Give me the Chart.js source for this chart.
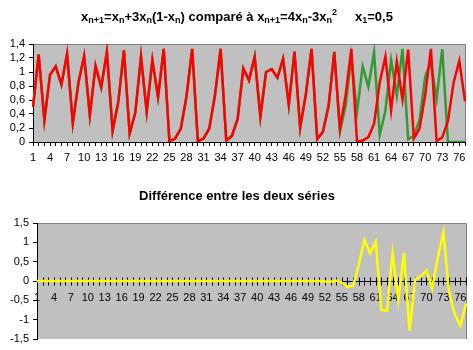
<!DOCTYPE html>
<html>
<head>
<meta charset="utf-8">
<script src="https://cdn.jsdelivr.net/npm/chart.js@4.4.0/dist/chart.umd.min.js"></script>
<style>
  body { margin: 0; background: #fff; overflow: hidden; }
  #wrap { position: relative; width: 473px; height: 350px; }
  canvas { position: absolute; left: 0; }
</style>
</head>
<body>
<div id="wrap">
  <canvas id="series" width="473" height="172" style="top:0"></canvas>
  <canvas id="difference" width="473" height="178" style="top:172px"></canvas>
</div>
<script>
// rang n
const steps = [
  1, 2, 3, 4, 5, 6, 7, 8, 9, 10, 11, 12, 13, 14, 15, 16, 17, 18, 19, 20,
  21, 22, 23, 24, 25, 26, 27, 28, 29, 30, 31, 32, 33, 34, 35, 36, 37, 38, 39, 40,
  41, 42, 43, 44, 45, 46, 47, 48, 49, 50, 51, 52, 53, 54, 55, 56, 57, 58, 59, 60,
  61, 62, 63, 64, 65, 66, 67, 68, 69, 70, 71, 72, 73, 74, 75, 76, 77
];

// xn+1 = xn + 3xn(1-xn)
const suiteA = [
  0.5, 1.25, 0.31, 0.96, 1.08, 0.82, 1.26, 0.27, 0.85, 1.23,
  0.38, 1.09, 0.78, 1.29, 0.16, 0.57, 1.31, 0.12, 0.42, 1.22,
  0.43, 1.17, 0.64, 1.33, 0.01, 0.05, 0.19, 0.65, 1.33, 0.01,
  0.05, 0.19, 0.66, 1.33, 0.02, 0.09, 0.33, 1.05, 0.88, 1.22,
  0.36, 1.0, 1.04, 0.92, 1.19, 0.53, 1.29, 0.2, 0.68, 1.33,
  0.04, 0.15, 0.52, 1.28, 0.19, 0.67, 1.33, 0.005, 0.02, 0.07,
  0.26, 0.85, 1.22, 0.45, 1.15, 0.61, 1.32, 0.05, 0.19, 0.67,
  1.33, 0.016, 0.065, 0.3, 0.85, 1.16, 0.58
];

// xn+1 = 4xn - 3xn^2
const suiteB = [
  0.5, 1.25, 0.31, 0.96, 1.08, 0.82, 1.26, 0.27, 0.85, 1.23,
  0.38, 1.09, 0.78, 1.29, 0.16, 0.57, 1.31, 0.12, 0.42, 1.22,
  0.43, 1.17, 0.64, 1.33, 0.01, 0.05, 0.19, 0.65, 1.33, 0.01,
  0.05, 0.19, 0.66, 1.33, 0.02, 0.09, 0.33, 1.05, 0.88, 1.22,
  0.36, 1.0, 1.04, 0.92, 1.19, 0.53, 1.29, 0.2, 0.68, 1.33,
  0.04, 0.14, 0.5, 1.29, 0.15, 0.52, 1.21, 0.425, 1.08, 0.79,
  1.28, 0.1, 0.45, 1.17, 0.66, 1.33, 0.04, 0.09, 0.31, 0.94,
  1.14, 0.616, 1.325, 0, 0, 0, 0
];

// écart entre les deux suites
const ecart = [
  0, 0, 0, 0, 0, 0, 0, 0, 0, 0,
  0, 0, 0, 0, 0, 0, 0, 0, 0, 0,
  0, 0, 0, 0, 0, 0, 0, 0, 0, 0,
  0, 0, 0, 0, 0, 0, 0, 0, 0, 0,
  0, 0, 0, 0, 0, 0, 0, 0, 0, 0,
  0, -0.01, -0.02, 0.01, -0.04, -0.15, -0.12, 0.42, 1.06, 0.72,
  1.02, -0.75, -0.77, 0.72, -0.49, 0.72, -1.28, 0.04, 0.12, 0.27,
  -0.19, 0.6, 1.26, -0.3, -0.85, -1.16, -0.58
];

const valeursHaut = [0, 0.2, 0.4, 0.6, 0.8, 1, 1.2, 1.4];
const ticksHaut = ['0', '0,2', '0,4', '0,6', '0,8', '1', '1,2', '1,4'];
const valeursBas = [-1.5, -1, -0.5, 0, 0.5, 1, 1.5];
const ticksBas = ['-1,5', '-1', '-0,5', '0', '0,5', '1', '1,5'];

const titreHaut = [
  ['x', ''], ['n+1', 'sub'], ['=x', ''], ['n', 'sub'], ['+3x', ''], ['n', 'sub'],
  ['(1-x', ''], ['n', 'sub'], [') comparé à x', ''], ['n+1', 'sub'], ['=4x', ''],
  ['n', 'sub'], ['-3x', ''], ['n', 'sub'], ['2', 'sup'], ['     x', ''], ['1', 'sub'], ['=0,5', '']
];
const titreBas = [['Différence entre les deux séries', '']];

const police = '"Liberation Sans", Arial, sans-serif';
Chart.defaults.font.family = police;
Chart.defaults.font.size = 11;
Chart.defaults.color = '#000';
Chart.defaults.animation = false;
Chart.defaults.plugins.legend.display = false;
Chart.defaults.plugins.tooltip.enabled = false;

// fond gris + cadre haut/droite de la zone de tracé
const cadre = {
  id: 'cadre',
  beforeDraw(chart) {
    const ctx = chart.ctx, a = chart.chartArea;
    ctx.save();
    ctx.fillStyle = '#c0c0c0';
    ctx.fillRect(a.left, a.top, a.right - a.left, a.bottom - a.top);
    ctx.strokeStyle = '#808080';
    ctx.lineWidth = 1;
    ctx.beginPath();
    ctx.moveTo(a.left, a.top + 0.5);
    ctx.lineTo(a.right + 0.5, a.top + 0.5);
    ctx.lineTo(a.right + 0.5, a.bottom);
    ctx.stroke();
    ctx.restore();
  }
};

// titre avec indices / exposants
const titre = {
  id: 'titre',
  afterDraw(chart, args, opts) {
    const ctx = chart.ctx;
    const fonts = {
      '': 'bold 13px ' + police,
      sub: 'bold 9px ' + police,
      sup: 'bold 9px ' + police
    };
    const decal = { '': 0, sub: 2, sup: -6 };
    ctx.save();
    let total = 0;
    opts.parts.forEach(([t, k]) => { ctx.font = fonts[k]; total += ctx.measureText(t).width; });
    let x = opts.x - total / 2;
    ctx.fillStyle = '#000';
    ctx.textBaseline = 'alphabetic';
    ctx.textAlign = 'left';
    opts.parts.forEach(([t, k]) => {
      ctx.font = fonts[k];
      ctx.fillText(t, x, opts.y + decal[k]);
      x += ctx.measureText(t).width;
    });
    ctx.restore();
  }
};

// graduations en croix sur l'axe horizontal du bas
const croix = {
  id: 'croix',
  beforeDatasetsDraw(chart) {
    const ctx = chart.ctx, sx = chart.scales.x, sy = chart.scales.y;
    const y0 = Math.round(sy.getPixelForValue(0)) + 0.5;
    ctx.save();
    ctx.strokeStyle = '#000';
    ctx.lineWidth = 1;
    ctx.beginPath();
    ctx.moveTo(chart.chartArea.left, y0);
    ctx.lineTo(chart.chartArea.right, y0);
    for (let i = 0; i < steps.length; i++) {
      const px = Math.round(sx.getPixelForValue(i)) + 0.5;
      ctx.moveTo(px, y0 - 4);
      ctx.lineTo(px, y0 + 4);
    }
    ctx.stroke();
    ctx.restore();
  }
};

const axeNoir = { color: '#000', width: 1 };

new Chart(document.getElementById('series'), {
  type: 'line',
  data: {
    labels: steps,
    datasets: [
      // la première série est tracée par-dessus
      { data: suiteA, borderColor: '#ff0000', borderWidth: 2.5, pointRadius: 0, tension: 0 },
      { data: suiteB, borderColor: '#339933', borderWidth: 2.5, pointRadius: 0, tension: 0 }
    ]
  },
  options: {
    responsive: false,
    layout: { padding: { top: 44, right: 8, left: 0, bottom: 0 } },
    scales: {
      x: {
        offset: false,
        grid: { drawOnChartArea: false, tickLength: 4, color: '#000' },
        border: axeNoir,
        ticks: { autoSkip: false, maxRotation: 0, padding: 5, callback: (v, i) => i % 3 === 0 ? steps[i] : '' },
        afterFit: s => { s.height = 30; }
      },
      y: {
        min: 0, max: 1.4,
        grid: { drawOnChartArea: false, tickLength: 4, color: '#000' },
        border: axeNoir,
        ticks: { autoSkip: false, padding: 4, callback: (v, i) => ticksHaut[i] },
        afterBuildTicks: s => { s.ticks = valeursHaut.map(v => ({ value: v })); },
        afterFit: s => { s.width = 33; }
      }
    },
    plugins: { titre: { parts: titreHaut, x: 237, y: 21 } }
  },
  plugins: [cadre, titre]
});

new Chart(document.getElementById('difference'), {
  type: 'line',
  data: {
    labels: steps,
    datasets: [
      { data: ecart, borderColor: '#ffff00', borderWidth: 2.5, pointRadius: 0, tension: 0 }
    ]
  },
  options: {
    responsive: false,
    layout: { padding: { top: 51, right: 7, left: 0, bottom: 11 } },
    scales: {
      x: {
        position: { y: 0 },
        offset: false,
        grid: { display: false, tickLength: 4 },
        border: { display: false },
        ticks: { autoSkip: false, maxRotation: 0, padding: 6, callback: (v, i) => i % 3 === 0 ? steps[i] : '' }
      },
      y: {
        min: -1.5, max: 1.5,
        grid: { drawOnChartArea: false, tickLength: 4, color: '#000' },
        border: axeNoir,
        ticks: { autoSkip: false, padding: 4, callback: (v, i) => ticksBas[i] },
        afterBuildTicks: s => { s.ticks = valeursBas.map(v => ({ value: v })); },
        afterFit: s => { s.width = 37; }
      }
    },
    plugins: { titre: { parts: titreBas, x: 237, y: 28 } }
  },
  plugins: [cadre, croix, titre]
});
</script>
</body>
</html>
